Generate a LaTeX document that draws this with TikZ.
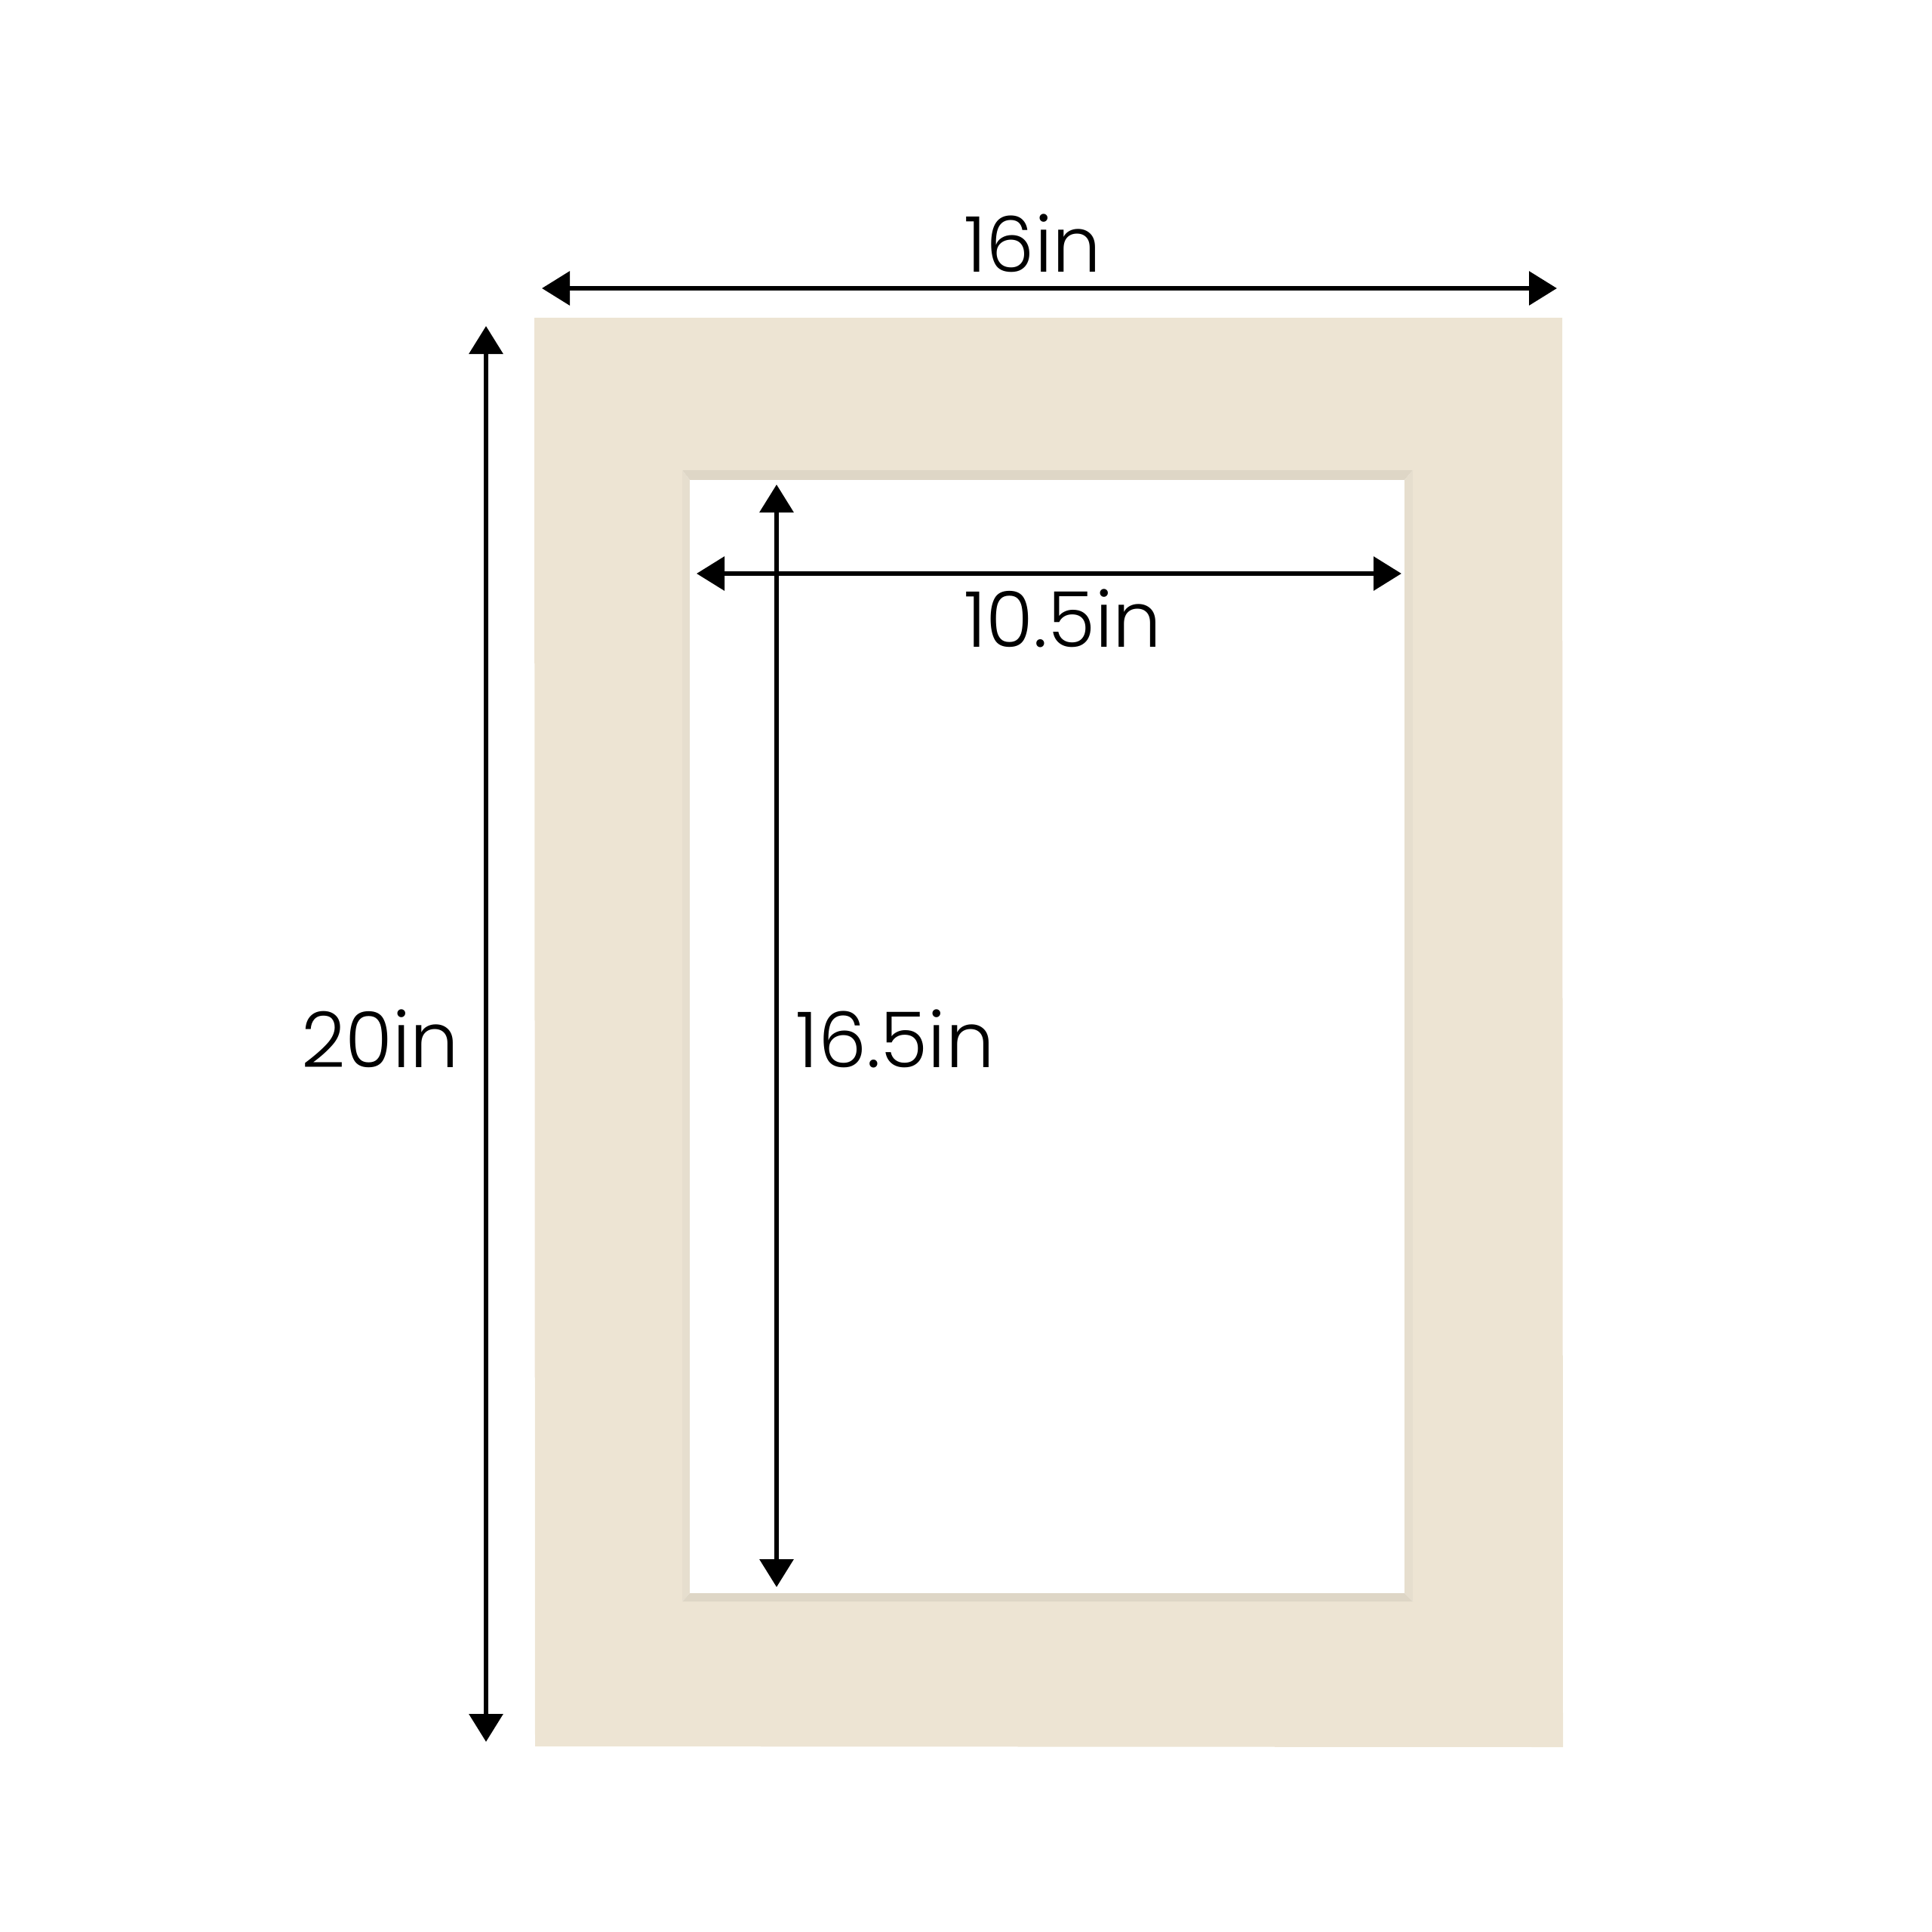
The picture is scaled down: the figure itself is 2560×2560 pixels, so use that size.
\documentclass[tikz,border=0pt]{standalone}
\usepackage{fontspec}
\setmainfont{Poppins}[UprightFont = * Light]
\usepackage{tikz}
\usetikzlibrary{calc}
\usetikzlibrary{arrows.meta}

\definecolor{matcream}{HTML}{EDE4D3}
\definecolor{beveldark}{HTML}{DED6C6}
\definecolor{bevellight}{HTML}{E6DECE}

\tikzset{
	dimline/.style = {line width = 0.065cm, {Triangle[length = 0.37cm, width = 0.44cm]}-{Triangle[length = 0.37cm, width = 0.44cm]}},
	dimlabel/.style = {anchor = base, inner sep = 0pt, font = \fontsize{29}{29}\selectfont}
}

\begin{document}
\begin{tikzpicture}[x = 0.01cm, y = -0.01cm]
				\useasboundingbox (0, 0) rectangle (2560, 2560);

				\coordinate[](a) at (708, 421);
				\coordinate[](b) at (2070, 421);
				\coordinate[](c) at (2071, 2315);
				\coordinate[](d) at (709, 2314);

				\coordinate[](p) at (904, 623);
				\coordinate[](q) at (1872, 623);
				\coordinate[](r) at (1872, 2122);
				\coordinate[](s) at (904, 2122);

				\coordinate[](pi) at (914, 636);
				\coordinate[](qi) at (1861, 636);
				\coordinate[](ri) at (1861, 2111);
				\coordinate[](si) at (914, 2111);

				\fill[matcream] (a)--(b)--(c)--(d)--cycle;
				\fill[white] (p)--(q)--(r)--(s)--cycle;

				\fill[beveldark] (p)--(q)--(qi)--(pi)--cycle;
				\fill[bevellight] (q)--(r)--(ri)--(qi)--cycle;
				\fill[beveldark] (r)--(s)--(si)--(ri)--cycle;
				\fill[bevellight] (s)--(p)--(pi)--(si)--cycle;
				\fill[white] (pi)--(qi)--(ri)--(si)--cycle;

				\coordinate[](tl) at (718, 382);
				\coordinate[](tr) at (2063, 382);
				\coordinate[](lt) at (644, 432);
				\coordinate[](lb) at (644, 2308);
				\coordinate[](vt) at (1029, 642);
				\coordinate[](vb) at (1029, 2103);
				\coordinate[](hl) at (923, 760);
				\coordinate[](hr) at (1857, 760);

				\draw[dimline] (tl)--(tr);
				\draw[dimline] (lt)--(lb);
				\draw[dimline] (vt)--(vb);
				\draw[dimline] (hl)--(hr);

				\node[dimlabel] (wout) at (1368, 360) {16in};
				\node[dimlabel] (win) at (1408, 857) {10.5in};
				\node[dimlabel] (hout) at (504, 1414) {20in};
				\node[dimlabel] (hin) at (1186, 1414) {16.5in};
			\end{tikzpicture}
\end{document}
